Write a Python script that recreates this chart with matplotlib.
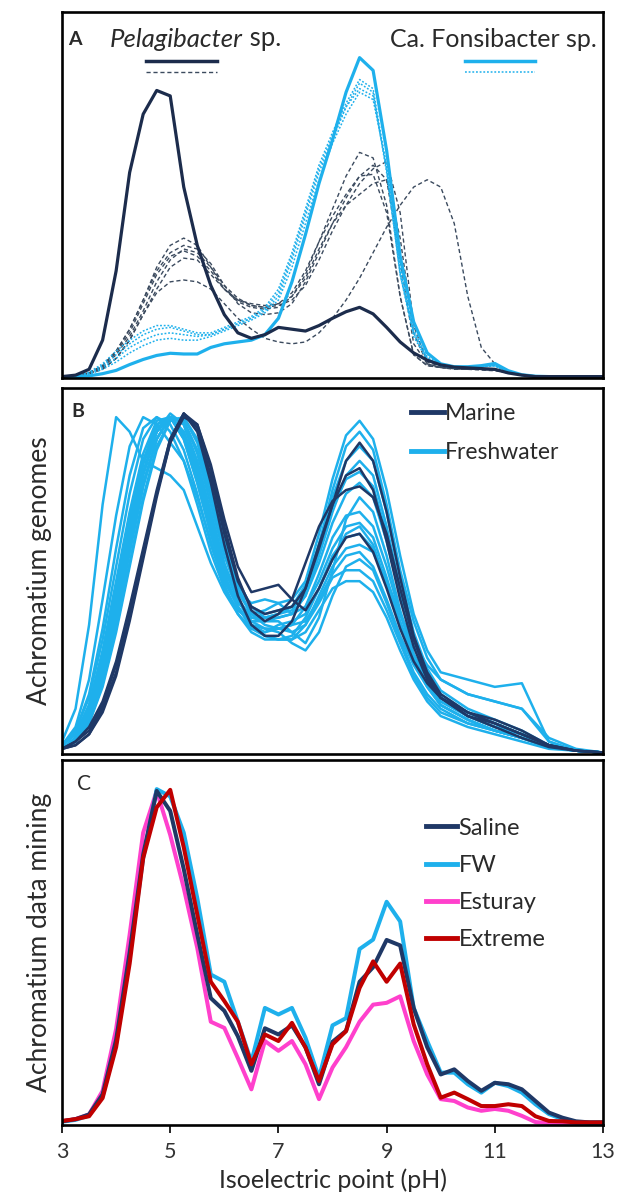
import matplotlib
matplotlib.use('Agg')
import matplotlib.pyplot as plt

plt.rcParams['font.family'] = ['Lato', 'DejaVu Sans']
plt.rcParams['lines.solid_joinstyle'] = 'round'
plt.rcParams['lines.dash_joinstyle'] = 'round'

# ---- panel A : Pelagibacter vs Ca. Fonsibacter (pH grid 3..13 step 0.25)
ph_a = [3.0 + 0.25 * i for i in range(41)]

pelagi_solid = [0.0, 0.004, 0.02, 0.10, 0.29, 0.56, 0.72, 0.785, 0.77, 0.52, 0.36, 0.25, 0.17,
                0.12, 0.105, 0.115, 0.135, 0.13, 0.125, 0.14, 0.16, 0.178, 0.19, 0.172, 0.135,
                0.095, 0.065, 0.045, 0.032, 0.026, 0.024, 0.022, 0.02, 0.01, 0.004, 0.0,
                0, 0, 0, 0, 0]

pelagi_dashed = [
    [0.0, 0.003, 0.01, 0.03, 0.07, 0.13, 0.21, 0.30, 0.36, 0.38, 0.36, 0.30, 0.24, 0.205, 0.19,
     0.185, 0.19, 0.22, 0.28, 0.37, 0.46, 0.55, 0.615, 0.60, 0.47, 0.22, 0.06, 0.03, 0.025,
     0.022, 0.02, 0.02, 0.018, 0.01, 0.004, 0.001, 0, 0, 0, 0, 0],
    [0.0, 0.003, 0.01, 0.025, 0.06, 0.11, 0.18, 0.26, 0.32, 0.35, 0.34, 0.30, 0.25, 0.215, 0.195,
     0.19, 0.195, 0.21, 0.25, 0.32, 0.40, 0.47, 0.53, 0.57, 0.59, 0.45, 0.14, 0.04, 0.028,
     0.024, 0.022, 0.02, 0.02, 0.012, 0.005, 0.001, 0, 0, 0, 0, 0],
    [0.0, 0.002, 0.008, 0.022, 0.05, 0.10, 0.17, 0.24, 0.30, 0.325, 0.32, 0.28, 0.24, 0.21, 0.20,
     0.195, 0.20, 0.22, 0.27, 0.35, 0.42, 0.47, 0.50, 0.53, 0.54, 0.38, 0.12, 0.035, 0.025,
     0.02, 0.02, 0.018, 0.016, 0.01, 0.004, 0.001, 0, 0, 0, 0, 0],
    [0.0, 0.002, 0.008, 0.02, 0.05, 0.10, 0.17, 0.23, 0.26, 0.265, 0.26, 0.24, 0.20, 0.16, 0.13,
     0.105, 0.095, 0.09, 0.095, 0.12, 0.16, 0.21, 0.27, 0.34, 0.41, 0.47, 0.52, 0.54, 0.52,
     0.42, 0.22, 0.08, 0.035, 0.015, 0.005, 0.002, 0, 0, 0, 0, 0],
    [0.0, 0.003, 0.01, 0.028, 0.065, 0.12, 0.20, 0.28, 0.33, 0.345, 0.33, 0.29, 0.24, 0.21, 0.195,
     0.19, 0.20, 0.23, 0.29, 0.37, 0.44, 0.50, 0.55, 0.555, 0.45, 0.22, 0.06, 0.03, 0.025,
     0.022, 0.02, 0.02, 0.018, 0.01, 0.004, 0.001, 0, 0, 0, 0, 0],
    [0.0, 0.003, 0.01, 0.03, 0.07, 0.13, 0.21, 0.29, 0.34, 0.36, 0.35, 0.31, 0.25, 0.20, 0.175,
     0.17, 0.175, 0.20, 0.26, 0.34, 0.42, 0.49, 0.55, 0.58, 0.54, 0.32, 0.09, 0.035, 0.025,
     0.022, 0.02, 0.02, 0.018, 0.01, 0.004, 0.001, 0, 0, 0, 0, 0],
]

fonsi_solid = [0, 0, 0.002, 0.008, 0.017, 0.033, 0.047, 0.058, 0.064, 0.062, 0.062, 0.08, 0.09,
               0.095, 0.10, 0.115, 0.16, 0.26, 0.39, 0.53, 0.65, 0.78, 0.875, 0.84, 0.62, 0.33,
               0.15, 0.065, 0.035, 0.027, 0.027, 0.03, 0.036, 0.016, 0.005, 0.001, 0, 0, 0, 0, 0]

fonsi_dotted = [
    [0, 0.002, 0.01, 0.03, 0.06, 0.09, 0.115, 0.13, 0.135, 0.125, 0.115, 0.115, 0.13, 0.145, 0.16,
     0.18, 0.22, 0.32, 0.44, 0.56, 0.65, 0.74, 0.805, 0.78, 0.56, 0.28, 0.12, 0.05, 0.03, 0.025,
     0.025, 0.028, 0.03, 0.012, 0.004, 0.001, 0, 0, 0, 0, 0],
    [0, 0.002, 0.008, 0.025, 0.05, 0.08, 0.10, 0.115, 0.12, 0.115, 0.11, 0.115, 0.13, 0.145, 0.16,
     0.185, 0.23, 0.33, 0.45, 0.57, 0.66, 0.74, 0.79, 0.77, 0.57, 0.29, 0.12, 0.05, 0.03, 0.025,
     0.025, 0.028, 0.03, 0.012, 0.004, 0.001, 0, 0, 0, 0, 0],
    [0, 0.002, 0.006, 0.02, 0.04, 0.065, 0.085, 0.10, 0.105, 0.10, 0.10, 0.11, 0.125, 0.14, 0.155,
     0.175, 0.21, 0.30, 0.42, 0.54, 0.64, 0.72, 0.78, 0.76, 0.58, 0.30, 0.13, 0.055, 0.032, 0.026,
     0.026, 0.028, 0.03, 0.012, 0.004, 0.001, 0, 0, 0, 0, 0],
    [0, 0.003, 0.012, 0.035, 0.07, 0.10, 0.125, 0.14, 0.14, 0.13, 0.12, 0.12, 0.135, 0.15, 0.165,
     0.19, 0.24, 0.34, 0.46, 0.58, 0.67, 0.75, 0.815, 0.79, 0.57, 0.28, 0.11, 0.045, 0.03, 0.025,
     0.025, 0.028, 0.03, 0.012, 0.004, 0.001, 0, 0, 0, 0, 0],
]

# ---- panel B : Achromatium genomes
ph_b = [3.0, 3.25, 3.5, 3.75, 4.0, 4.25, 4.5, 4.75, 5.0, 5.25, 5.5, 5.75, 6.0, 6.25, 6.5, 6.75,
        7.0, 7.25, 7.5, 7.75, 8.0, 8.25, 8.5, 8.75, 9.0, 9.25, 9.5, 9.75, 10.0, 10.5, 11.0, 11.5,
        12.0, 12.5, 13.0]

freshwater_b = [
    [0.03, 0.12, 0.35, 0.68, 0.92, 0.88, 0.80, 0.78, 0.76, 0.72, 0.62, 0.52, 0.44, 0.38, 0.34, 0.33,
     0.35, 0.36, 0.38, 0.45, 0.53, 0.60, 0.62, 0.57, 0.46, 0.35, 0.26, 0.19, 0.14, 0.10, 0.07, 0.05,
     0.02, 0.005, 0],
    [0.02, 0.07, 0.20, 0.42, 0.65, 0.84, 0.92, 0.90, 0.85, 0.80, 0.70, 0.58, 0.47, 0.40, 0.35, 0.33,
     0.34, 0.35, 0.36, 0.42, 0.49, 0.54, 0.55, 0.51, 0.42, 0.32, 0.24, 0.18, 0.13, 0.09, 0.06, 0.04,
     0.015, 0.005, 0],
    [0.02, 0.05, 0.13, 0.28, 0.47, 0.66, 0.82, 0.91, 0.92, 0.86, 0.74, 0.60, 0.48, 0.41, 0.38, 0.39,
     0.41, 0.42, 0.47, 0.60, 0.75, 0.87, 0.91, 0.86, 0.72, 0.54, 0.38, 0.28, 0.22, 0.20, 0.18, 0.19,
     0.03, 0.005, 0],
    [0.01, 0.04, 0.10, 0.22, 0.39, 0.58, 0.76, 0.88, 0.93, 0.90, 0.79, 0.64, 0.51, 0.42, 0.37, 0.37,
     0.38, 0.39, 0.45, 0.57, 0.72, 0.84, 0.88, 0.83, 0.68, 0.50, 0.36, 0.26, 0.20, 0.16, 0.14, 0.12,
     0.03, 0.005, 0],
    [0.01, 0.03, 0.09, 0.20, 0.36, 0.55, 0.73, 0.86, 0.92, 0.91, 0.82, 0.68, 0.54, 0.44, 0.38, 0.37,
     0.38, 0.40, 0.46, 0.57, 0.70, 0.80, 0.84, 0.80, 0.66, 0.48, 0.33, 0.23, 0.17, 0.12, 0.09, 0.06,
     0.02, 0.005, 0],
    [0.02, 0.05, 0.12, 0.26, 0.44, 0.63, 0.80, 0.90, 0.92, 0.87, 0.76, 0.62, 0.50, 0.42, 0.37, 0.36,
     0.37, 0.38, 0.43, 0.54, 0.66, 0.76, 0.80, 0.76, 0.62, 0.45, 0.31, 0.22, 0.16, 0.11, 0.08, 0.05,
     0.02, 0.005, 0],
    [0.01, 0.03, 0.08, 0.18, 0.33, 0.51, 0.69, 0.83, 0.91, 0.92, 0.86, 0.73, 0.58, 0.47, 0.40, 0.37,
     0.37, 0.38, 0.43, 0.52, 0.63, 0.71, 0.74, 0.70, 0.58, 0.43, 0.30, 0.21, 0.15, 0.10, 0.07, 0.05,
     0.02, 0.005, 0],
    [0.02, 0.06, 0.16, 0.34, 0.56, 0.76, 0.89, 0.92, 0.88, 0.80, 0.68, 0.55, 0.45, 0.39, 0.36, 0.36,
     0.36, 0.33, 0.30, 0.37, 0.50, 0.64, 0.70, 0.66, 0.54, 0.39, 0.27, 0.19, 0.13, 0.09, 0.06, 0.04,
     0.015, 0.005, 0],
    [0.01, 0.04, 0.11, 0.24, 0.41, 0.60, 0.77, 0.88, 0.92, 0.88, 0.78, 0.64, 0.51, 0.42, 0.36, 0.34,
     0.34, 0.35, 0.40, 0.49, 0.59, 0.65, 0.66, 0.62, 0.51, 0.38, 0.27, 0.20, 0.15, 0.11, 0.08, 0.05,
     0.02, 0.005, 0],
    [0.01, 0.03, 0.09, 0.21, 0.37, 0.56, 0.74, 0.86, 0.92, 0.90, 0.80, 0.66, 0.52, 0.42, 0.35, 0.32,
     0.31, 0.32, 0.37, 0.45, 0.54, 0.59, 0.60, 0.56, 0.46, 0.35, 0.25, 0.18, 0.13, 0.09, 0.06, 0.04,
     0.015, 0.005, 0],
    [0.02, 0.05, 0.13, 0.27, 0.45, 0.64, 0.80, 0.90, 0.92, 0.86, 0.74, 0.60, 0.48, 0.40, 0.34, 0.32,
     0.31, 0.31, 0.35, 0.43, 0.51, 0.56, 0.57, 0.55, 0.47, 0.38, 0.30, 0.24, 0.20, 0.16, 0.14, 0.12,
     0.04, 0.01, 0],
    [0.01, 0.04, 0.11, 0.24, 0.41, 0.60, 0.77, 0.88, 0.92, 0.88, 0.77, 0.62, 0.49, 0.40, 0.35, 0.34,
     0.33, 0.30, 0.28, 0.33, 0.43, 0.51, 0.53, 0.50, 0.41, 0.31, 0.22, 0.16, 0.12, 0.08, 0.06, 0.04,
     0.015, 0.005, 0],
    [0.01, 0.03, 0.08, 0.19, 0.34, 0.52, 0.70, 0.84, 0.91, 0.92, 0.85, 0.71, 0.56, 0.45, 0.38, 0.35,
     0.34, 0.33, 0.35, 0.41, 0.48, 0.50, 0.50, 0.47, 0.39, 0.30, 0.21, 0.15, 0.11, 0.08, 0.06, 0.04,
     0.015, 0.005, 0],
    [0.02, 0.06, 0.15, 0.31, 0.51, 0.71, 0.86, 0.92, 0.90, 0.83, 0.71, 0.57, 0.46, 0.38, 0.33, 0.31,
     0.31, 0.31, 0.33, 0.39, 0.45, 0.47, 0.47, 0.44, 0.37, 0.28, 0.20, 0.14, 0.10, 0.07, 0.05, 0.03,
     0.01, 0.005, 0],
    [0.01, 0.03, 0.09, 0.20, 0.36, 0.55, 0.73, 0.86, 0.92, 0.91, 0.83, 0.70, 0.56, 0.46, 0.40, 0.38,
     0.39, 0.40, 0.44, 0.55, 0.67, 0.75, 0.77, 0.73, 0.60, 0.44, 0.30, 0.21, 0.15, 0.11, 0.08, 0.05,
     0.02, 0.005, 0],
    [0.01, 0.04, 0.11, 0.25, 0.43, 0.62, 0.79, 0.89, 0.92, 0.87, 0.76, 0.62, 0.51, 0.44, 0.41, 0.42,
     0.41, 0.38, 0.40, 0.47, 0.56, 0.62, 0.63, 0.59, 0.48, 0.36, 0.26, 0.19, 0.14, 0.10, 0.07, 0.05,
     0.02, 0.005, 0],
]

marine_b = [
    [0.01, 0.03, 0.07, 0.14, 0.25, 0.40, 0.56, 0.72, 0.86, 0.93, 0.89, 0.76, 0.60, 0.47, 0.40, 0.38,
     0.39, 0.40, 0.45, 0.56, 0.68, 0.80, 0.85, 0.80, 0.66, 0.48, 0.32, 0.22, 0.16, 0.11, 0.08, 0.05,
     0.02, 0.005, 0],
    [0.01, 0.02, 0.05, 0.11, 0.21, 0.36, 0.53, 0.70, 0.85, 0.93, 0.90, 0.78, 0.62, 0.48, 0.39, 0.36,
     0.38, 0.42, 0.52, 0.62, 0.69, 0.72, 0.73, 0.70, 0.60, 0.45, 0.31, 0.21, 0.15, 0.10, 0.08, 0.05,
     0.02, 0.005, 0],
    [0.01, 0.03, 0.06, 0.13, 0.24, 0.39, 0.55, 0.71, 0.85, 0.92, 0.90, 0.79, 0.64, 0.51, 0.44, 0.45,
     0.46, 0.42, 0.39, 0.45, 0.53, 0.59, 0.60, 0.55, 0.45, 0.34, 0.25, 0.19, 0.15, 0.11, 0.09, 0.06,
     0.02, 0.005, 0],
    [0.01, 0.02, 0.05, 0.12, 0.22, 0.37, 0.54, 0.71, 0.86, 0.93, 0.88, 0.74, 0.57, 0.43, 0.35, 0.32,
     0.32, 0.36, 0.45, 0.57, 0.68, 0.76, 0.78, 0.72, 0.58, 0.42, 0.29, 0.20, 0.15, 0.10, 0.07, 0.04,
     0.015, 0.005, 0],
]

# ---- panel C : Achromatium data mining (pH grid 3..13 step 0.25)
ph_c = [3.0 + 0.25 * i for i in range(41)]

saline_c = [0.006, 0.012, 0.025, 0.08, 0.23, 0.47, 0.74, 0.915, 0.86, 0.70, 0.52, 0.345, 0.31,
            0.24, 0.145, 0.262, 0.245, 0.27, 0.21, 0.108, 0.225, 0.255, 0.39, 0.43, 0.505, 0.49,
            0.318, 0.21, 0.135, 0.149, 0.117, 0.09, 0.112, 0.108, 0.094, 0.062, 0.03, 0.016,
            0.006, 0.003, 0.003]
fw_c = [0.005, 0.01, 0.022, 0.075, 0.22, 0.46, 0.73, 0.92, 0.90, 0.80, 0.62, 0.41, 0.39, 0.28,
        0.17, 0.318, 0.30, 0.318, 0.236, 0.126, 0.27, 0.29, 0.48, 0.506, 0.61, 0.556, 0.318,
        0.227, 0.14, 0.14, 0.108, 0.085, 0.112, 0.103, 0.085, 0.053, 0.026, 0.012, 0.004,
        0.003, 0.003]
esturay_c = [0.006, 0.012, 0.025, 0.09, 0.26, 0.52, 0.80, 0.915, 0.794, 0.648, 0.483, 0.28,
             0.263, 0.18, 0.094, 0.227, 0.20, 0.227, 0.163, 0.067, 0.154, 0.21, 0.28, 0.327,
             0.332, 0.35, 0.227, 0.135, 0.067, 0.062, 0.044, 0.035, 0.04, 0.035, 0.021, 0.004,
             0.001, 0, 0, 0, 0]
extreme_c = [0.007, 0.012, 0.02, 0.07, 0.21, 0.44, 0.73, 0.87, 0.918, 0.76, 0.575, 0.39, 0.337,
             0.28, 0.163, 0.245, 0.227, 0.277, 0.209, 0.117, 0.218, 0.254, 0.373, 0.446, 0.39,
             0.44, 0.273, 0.163, 0.071, 0.085, 0.067, 0.048, 0.048, 0.053, 0.048, 0.02, 0.007,
             0.006, 0.003, 0.003, 0.003]

NAVY = '#1c2c4c'
MARINE = '#1f3866'
BLUE = '#1eb0ec'
DASH = '#3b4a5e'
PINK = '#ff40cc'
RED = '#c00000'
TXT = '#2a2a2a'

fig = plt.figure(figsize=(6.19, 11.96), dpi=100)
ax_a = fig.add_axes([0.1002, 0.6839, 0.874, 0.306])
ax_b = fig.add_axes([0.1002, 0.3696, 0.874, 0.306])
ax_c = fig.add_axes([0.1002, 0.0594, 0.874, 0.3051])

for ax in (ax_a, ax_b, ax_c):
    ax.set_xlim(3, 13)
    ax.set_ylim(-0.004, 1.0)
    ax.set_yticks([])
    for s in ax.spines.values():
        s.set_linewidth(1.9)
        s.set_color('black')

# panel A
for ys in pelagi_dashed:
    ax_a.plot(ph_a, ys, color=DASH, lw=1.0, ls=(0, (3, 2)))
for ys in fonsi_dotted:
    ax_a.plot(ph_a, ys, color=BLUE, lw=1.1, ls=(0, (1.2, 1.2)))
ax_a.plot(ph_a, fonsi_solid, color=BLUE, lw=2.3)
ax_a.plot(ph_a, pelagi_solid, color=NAVY, lw=2.3)
ax_a.set_xticks([])

ax_a.text(0.012, 0.925, 'A', transform=ax_a.transAxes, fontsize=14, fontweight='bold',
          va='center', ha='left', color=TXT)
t = ax_a.text(0.088, 0.925, 'Pelagibacter', transform=ax_a.transAxes, fontsize=18.5,
              style='italic', va='center', ha='left', color=TXT)
ax_a.annotate(' sp.', xy=(1, 0), xycoords=t, va='bottom', ha='left', fontsize=18.5, color=TXT)
ax_a.text(0.988, 0.925, 'Ca. Fonsibacter sp.', transform=ax_a.transAxes, fontsize=18,
          va='center', ha='right', color=TXT)
ax_a.plot([0.155, 0.286], [0.866, 0.866], transform=ax_a.transAxes, color=NAVY, lw=2.5)
ax_a.plot([0.155, 0.286], [0.836, 0.836], transform=ax_a.transAxes, color=DASH, lw=1.0,
          ls=(0, (3, 2)))
ax_a.plot([0.744, 0.875], [0.866, 0.866], transform=ax_a.transAxes, color=BLUE, lw=2.5)
ax_a.plot([0.744, 0.875], [0.836, 0.836], transform=ax_a.transAxes, color=BLUE, lw=1.1,
          ls=(0, (1.2, 1.2)))

# panel B
for ys in freshwater_b:
    ax_b.plot(ph_b, ys, color=BLUE, lw=1.8)
for ys in marine_b:
    ax_b.plot(ph_b, ys, color=MARINE, lw=1.8)
ax_b.plot([], [], color=MARINE, lw=3.5, label='Marine')
ax_b.plot([], [], color=BLUE, lw=3.5, label='Freshwater')
ax_b.set_xticks([])
ax_b.text(0.018, 0.935, 'B', transform=ax_b.transAxes, fontsize=14, fontweight='bold',
          va='center', ha='left', color=TXT)
leg_b = ax_b.legend(loc='upper left', bbox_to_anchor=(0.645, 0.958), frameon=False,
                    fontsize=16.5, handlelength=1.45, handletextpad=0.05, labelspacing=0.75,
                    borderaxespad=0, borderpad=0)
for tx in leg_b.get_texts():
    tx.set_color(TXT)
ax_b.set_ylabel('Achromatium genomes', fontsize=19, labelpad=7, color=TXT)

# panel C
ax_c.plot(ph_c, esturay_c, color=PINK, lw=2.9)
ax_c.plot(ph_c, fw_c, color=BLUE, lw=2.9)
ax_c.plot(ph_c, saline_c, color=MARINE, lw=2.9)
ax_c.plot(ph_c, extreme_c, color=RED, lw=2.9)
handles = [
    plt.Line2D([], [], color=MARINE, lw=3.5),
    plt.Line2D([], [], color=BLUE, lw=3.5),
    plt.Line2D([], [], color=PINK, lw=3.5),
    plt.Line2D([], [], color=RED, lw=3.5),
]
leg_c = ax_c.legend(handles, ['Saline', 'FW', 'Esturay', 'Extreme'], loc='upper left',
                    bbox_to_anchor=(0.672, 0.842), frameon=False, fontsize=17,
                    handlelength=1.35, handletextpad=0.05, labelspacing=0.68,
                    borderaxespad=0, borderpad=0)
for tx in leg_c.get_texts():
    tx.set_color(TXT)
ax_c.text(0.028, 0.935, 'C', transform=ax_c.transAxes, fontsize=15, va='center', ha='left',
          color=TXT)
ax_c.set_xticks([3, 5, 7, 9, 11, 13])
ax_c.tick_params(axis='x', length=6, width=1.2, labelsize=15.5, pad=6, colors='black',
                 labelcolor='#333333')
ax_c.set_xlabel('Isoelectric point (pH)', fontsize=18, color=TXT, va='top')
ax_c.xaxis.set_label_coords(0.5, -0.12)
ax_c.set_ylabel('Achromatium data mining', fontsize=19, labelpad=7, color=TXT)

fig.savefig('out.png', dpi=100)
